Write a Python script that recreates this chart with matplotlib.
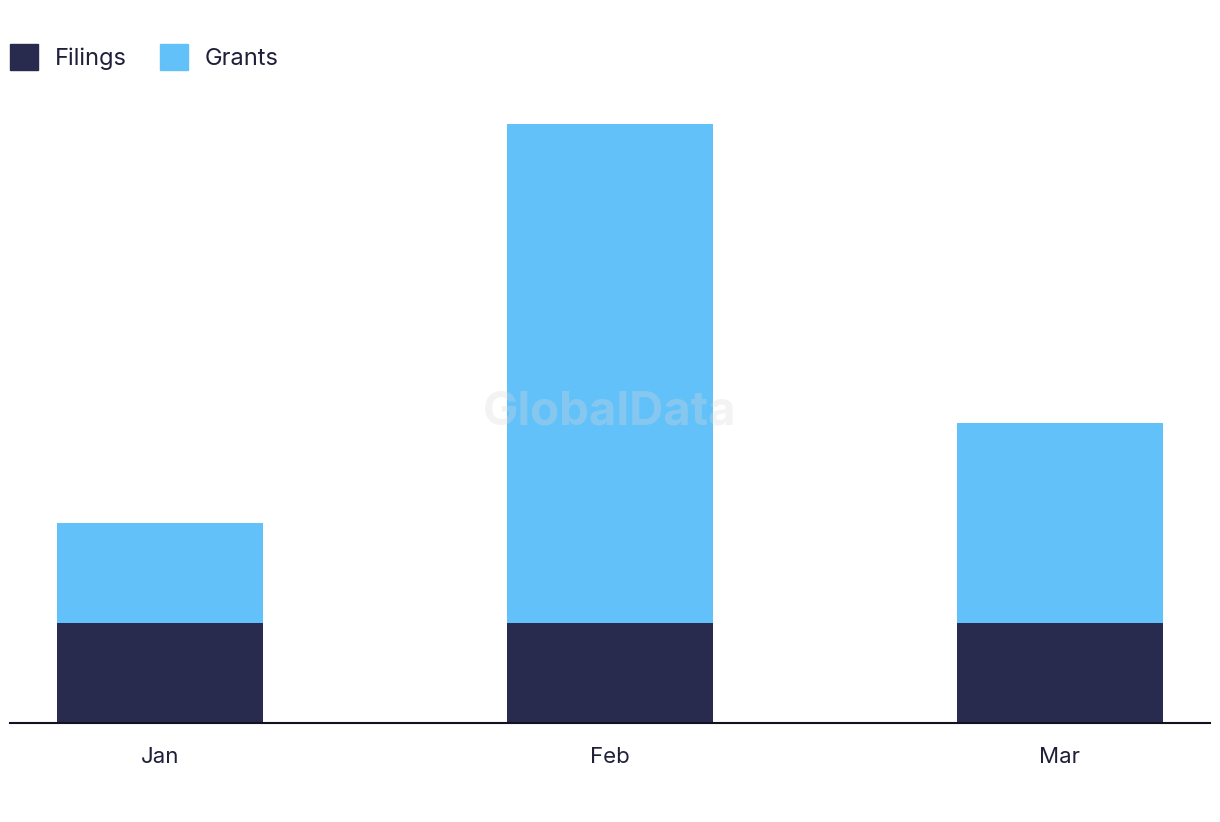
import matplotlib.pyplot as plt
from matplotlib.patches import Patch

months = ["Jan", "Feb", "Mar"]
filings = [1, 1, 1]
grants = [1, 5, 2]

c_fil = "#282a4e"
c_gr = "#62c1f9"
txt = "#1f1f3a"

plt.rcParams['font.family'] = ['Inter', 'DejaVu Sans']

fig = plt.figure(figsize=(12.2, 8.22), dpi=100)
ax = fig.add_axes([10/1220, 99/822, 1200/1220, 599/822])

x = range(len(months))
ax.bar(x, filings, width=0.458, color=c_fil)
ax.bar(x, grants, width=0.458, bottom=filings, color=c_gr)

ax.set_xlim(-1/3, 2 + 1/3)
ax.set_ylim(0, 6)
ax.set_xticks(list(x))
ax.set_xticklabels(months, fontsize=16, color=txt)
ax.tick_params(axis='x', length=0, pad=17)
ax.set_yticks([])
for s in ['top', 'right', 'left']:
    ax.spines[s].set_visible(False)
ax.spines['bottom'].set_color('#111122')
ax.spines['bottom'].set_linewidth(1.5)

# watermark
fig.text(610/1220, 1 - 412/822, "GlobalData", fontsize=34, fontweight='bold',
         color='#d8d8d8', alpha=0.3, ha='center', va='center', zorder=10)

handles = [Patch(color=c_fil, label="Filings"), Patch(color=c_gr, label="Grants")]
fig.legend(handles=handles, loc='upper left', bbox_to_anchor=(10/1220, 1 - 44/822),
           ncol=2, frameon=False, fontsize=17, handlelength=1.2, handleheight=1.3,
           handletextpad=0.7, columnspacing=1.4, borderpad=0, borderaxespad=0,
           labelcolor=txt)

fig.savefig("out.png", dpi=100)
